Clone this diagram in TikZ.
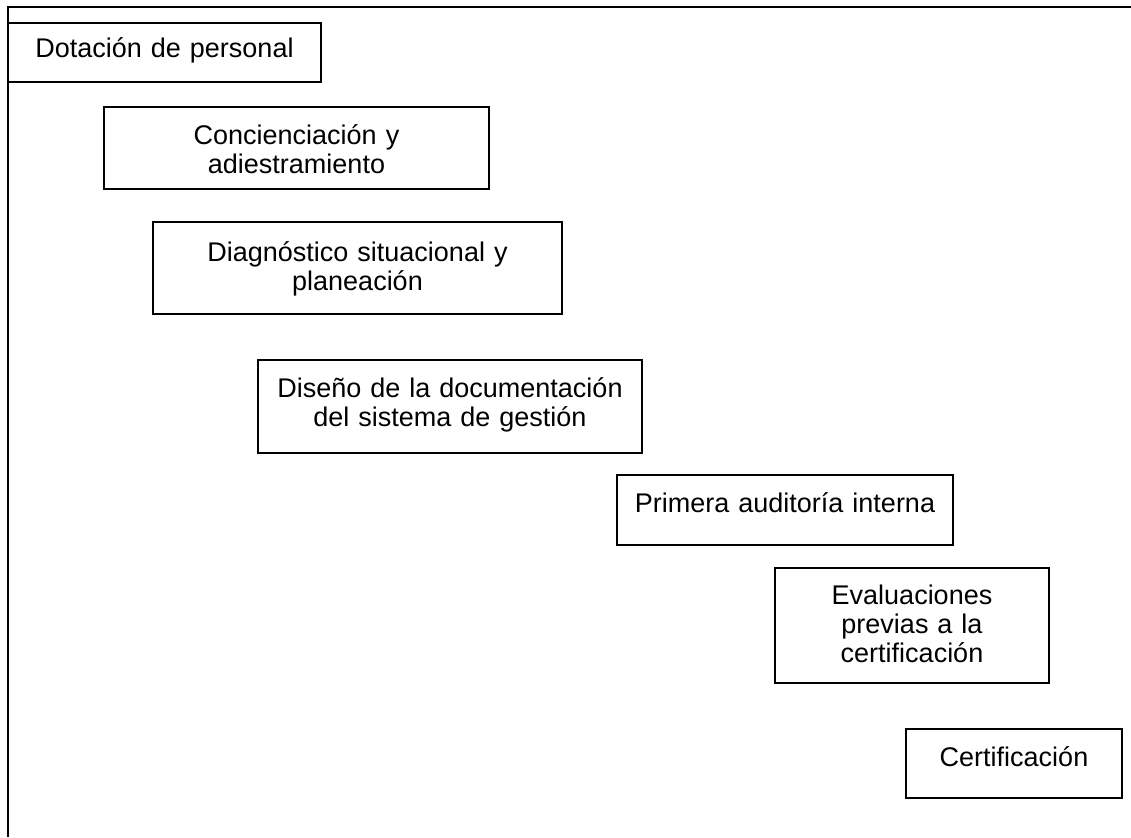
\documentclass[tikz,border=0pt]{standalone}
\usepackage{fontspec}
\setmainfont{Liberation Sans}
\begin{document}
\begin{tikzpicture}[x=1pt,y=-1pt,
  stagebox/.style={draw=black, line width=2pt, inner sep=0pt, fill=white},
  stagetext/.style={inner sep=0pt, anchor=base, align=center,
    font=\fontsize{27}{29}\selectfont},
  frameline/.style={line width=2.6pt, black}]
\useasboundingbox (0,0) rectangle (1131,837);
% open frame: left and top rules
\coordinate (fbl) at (8,837);
\coordinate (ftl) at (8,7);
\coordinate (ftr) at (1131,7);
\draw[frameline] (fbl) -- (ftl) -- (ftr);

% stage boxes (centre x, centre y, width, height)
\node[stagebox, minimum width=313, minimum height=59]  (b1) at (164.5,52.5)  {};
\node[stagebox, minimum width=385, minimum height=82]  (b2) at (296.5,148)   {};
\node[stagebox, minimum width=409, minimum height=92]  (b3) at (357.5,268)   {};
\node[stagebox, minimum width=384, minimum height=93]  (b4) at (450,406.5)   {};
\node[stagebox, minimum width=336, minimum height=70]  (b5) at (785,510)     {};
\node[stagebox, minimum width=274, minimum height=115] (b6) at (912,625.5)   {};
\node[stagebox, minimum width=216, minimum height=69]  (b7) at (1014,763.5)  {};

% stage labels, first baseline a fixed distance below each box top
\node[stagetext, text width=300] (t1) at ([yshift=-36pt]b1.north) {Dotación de personal};
\node[stagetext, text width=370] (t2) at ([yshift=-39pt]b2.north) {Concienciación y\\adiestramiento};
\node[stagetext, text width=390] (t3) at ([yshift=-40pt]b3.north) {Diagnóstico situacional y\\planeación};
\node[stagetext, text width=370] (t4) at ([yshift=-38pt]b4.north) {Diseño de la documentación\\del sistema de gestión};
\node[stagetext, text width=320] (t5) at ([yshift=-38pt]b5.north) {Primera auditoría interna};
\node[stagetext, text width=260] (t6) at ([yshift=-37pt]b6.north) {Evaluaciones\\previas a la\\certificación};
\node[stagetext, text width=200] (t7) at ([yshift=-38pt]b7.north) {Certificación};
\end{tikzpicture}
\end{document}
